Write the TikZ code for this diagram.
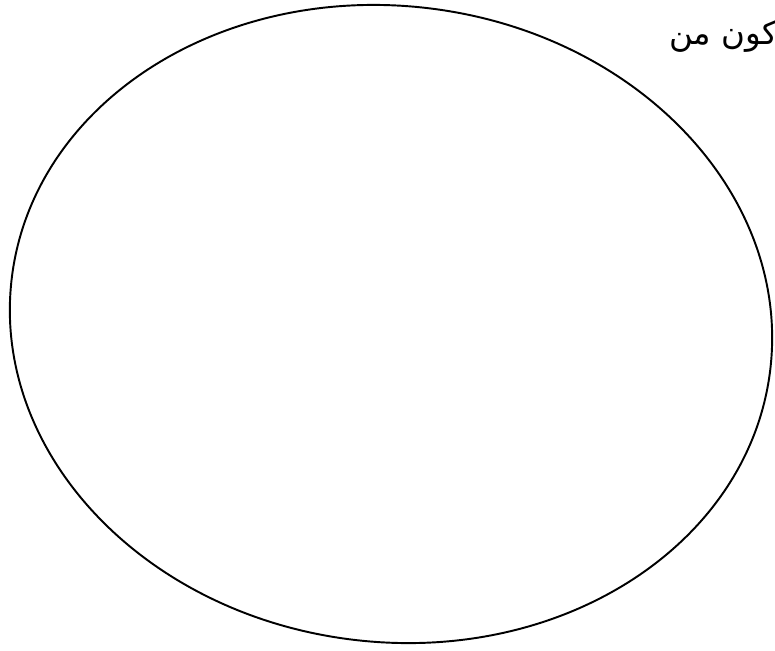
\documentclass[tikz,border=0pt]{standalone}
\usepackage{fontspec}
\TeXXeTstate=1
\newfontfamily\arabicfont[Script=Arabic]{DejaVu Sans}
\usetikzlibrary{positioning}

\begin{document}
\begin{tikzpicture}[x=0.02cm,y=-0.02cm]
  \useasboundingbox (0,0) rectangle (775,650);
  % the empty set outline
  \draw[line width=1.1pt, rotate around={-7:(391,324)}] (391,324) ellipse [x radius=382, y radius=318];
  % heading, cut at the right edge
  \node[font=\arabicfont\fontsize{18.5}{22}\selectfont, anchor=east, inner sep=0pt] (heading) at (778,36) {\beginR كون من\endR};
\end{tikzpicture}
\end{document}
